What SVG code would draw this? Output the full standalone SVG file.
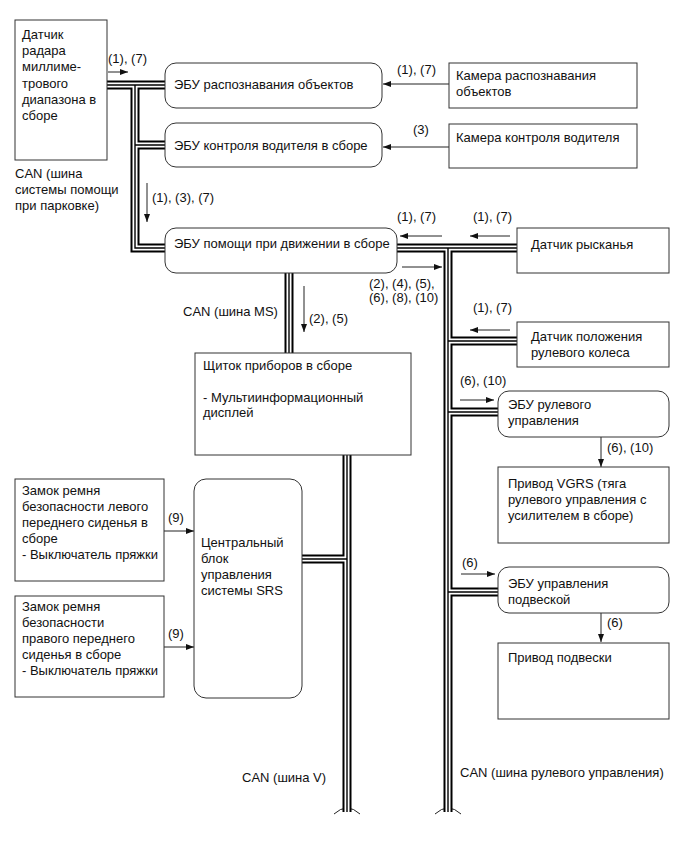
<svg xmlns="http://www.w3.org/2000/svg" xmlns:xlink="http://www.w3.org/1999/xlink" width="686" height="856" viewBox="0 0 686 856">
<style>
text{font-family:"Liberation Sans",Arial,sans-serif;font-size:13px;fill:#111}
.box{fill:#fff;stroke:#333;stroke-width:1}
.arr{stroke:#222;stroke-width:1;fill:none;marker-end:url(#ah)}
.b1{fill:none;stroke:#000;stroke-width:9}
.b2{fill:none;stroke:#fff;stroke-width:5}
.b3{fill:none;stroke:#000;stroke-width:1.4}
.brk{fill:none;stroke:#222;stroke-width:1}
</style>
<defs>
<marker id="ah" markerUnits="userSpaceOnUse" markerWidth="8" markerHeight="6" refX="8" refY="3" orient="auto">
<path d="M0,0 L8,3 L0,6 z" fill="#111"/>
</marker>
<path id="busP" d="M107,85 H165 M135,85 V248 H165 M135,145 H165"/>
<path id="busMS" d="M289,273 V353"/>
<path id="busV" d="M347,455 V812 M347,559 H302"/>
<path id="busS" d="M397,248 H517 M448,248 V812 M448,341 H517 M448,412 H498 M448,592 H498"/>
</defs>

<g id="connectors">
<path class="brk" d="M334,814 Q347,802 360,814"/>
<path class="brk" d="M435,814 Q448,802 461,814"/>
<use href="#busP" class="b1"/><use href="#busMS" class="b1"/><use href="#busV" class="b1"/><use href="#busS" class="b1"/>
<use href="#busP" class="b2"/><use href="#busMS" class="b2"/><use href="#busV" class="b2"/><use href="#busS" class="b2"/>
<use href="#busP" class="b3"/><use href="#busMS" class="b3"/><use href="#busV" class="b3"/><use href="#busS" class="b3"/>
<path class="arr" d="M108,72 H128"/>
<path class="arr" d="M449,84 H383"/>
<path class="arr" d="M449,147 H383"/>
<path class="arr" d="M147,183 V222"/>
<path class="arr" d="M442,236 H400"/>
<path class="arr" d="M510,236 H470"/>
<path class="arr" d="M402,267 H442"/>
<path class="arr" d="M304,286 V332"/>
<path class="arr" d="M510,330 H470"/>
<path class="arr" d="M460,400 H494"/>
<path class="arr" d="M601,437 V467"/>
<path class="arr" d="M164,531 H194"/>
<path class="arr" d="M164,647 H194"/>
<path class="arr" d="M461,574 H495"/>
<path class="arr" d="M601,613 V642"/>
</g>

<g id="labels">
<text x="108" y="63">(1), (7)</text>
<text x="397" y="74">(1), (7)</text>
<text x="413" y="134">(3)</text>
<text x="15" y="178">CAN (шина</text>
<text x="15" y="194">системы помощи</text>
<text x="15" y="210">при парковке)</text>
<text x="152" y="202">(1), (3), (7)</text>
<text x="397" y="221">(1), (7)</text>
<text x="473" y="221">(1), (7)</text>
<text x="369" y="288">(2), (4), (5),</text>
<text x="369" y="302">(6), (8), (10)</text>
<text x="183" y="316">CAN (шина MS)</text>
<text x="309" y="323">(2), (5)</text>
<text x="473" y="312">(1), (7)</text>
<text x="460" y="385">(6), (10)</text>
<text x="607" y="452">(6), (10)</text>
<text x="168" y="522">(9)</text>
<text x="168" y="638">(9)</text>
<text x="462" y="567">(6)</text>
<text x="607" y="627">(6)</text>
<text x="242" y="782">CAN (шина V)</text>
<text x="460" y="777">CAN (шина рулевого управления)</text>
</g>

<g id="radar">
<rect class="box" x="15" y="20" width="92" height="140"/>
<text x="22" y="39">Датчик</text>
<text x="22" y="55">радара</text>
<text x="22" y="71">миллиме-</text>
<text x="22" y="87.5">трового</text>
<text x="22" y="103.5">диапазона в</text>
<text x="22" y="119.5">сборе</text>
</g>

<g id="ecu-object">
<rect class="box" x="165" y="63" width="217" height="45" rx="11"/>
<text x="174" y="89">ЭБУ распознавания объектов</text>
</g>

<g id="camera-object">
<rect class="box" x="449" y="63" width="188" height="45"/>
<text x="456" y="80">Камера распознавания</text>
<text x="456" y="96">объектов</text>
</g>

<g id="ecu-driver">
<rect class="box" x="165" y="123" width="217" height="44" rx="11"/>
<text x="174" y="150">ЭБУ контроля водителя в сборе</text>
</g>

<g id="camera-driver">
<rect class="box" x="449" y="124" width="188" height="44"/>
<text x="456" y="142">Камера контроля водителя</text>
</g>

<g id="ecu-assist">
<rect class="box" x="165" y="228" width="232" height="45" rx="11"/>
<text x="174" y="248">ЭБУ помощи при движении в сборе</text>
</g>

<g id="yaw-sensor">
<rect class="box" x="517" y="228" width="152" height="45"/>
<text x="531" y="249">Датчик рысканья</text>
</g>

<g id="steering-sensor">
<rect class="box" x="517" y="322" width="152" height="45"/>
<text x="531" y="341">Датчик положения</text>
<text x="531" y="357">рулевого колеса</text>
</g>

<g id="meter">
<rect class="box" x="195" y="353" width="216" height="102"/>
<text x="203" y="369.5">Щиток приборов в сборе</text>
<text x="203" y="401.5">- Мультиинформационный</text>
<text x="203" y="417">дисплей</text>
</g>

<g id="ecu-steering">
<rect class="box" x="498" y="391" width="171" height="46" rx="11"/>
<text x="508" y="408.5">ЭБУ рулевого</text>
<text x="508" y="425">управления</text>
</g>

<g id="vgrs">
<rect class="box" x="498" y="467" width="171" height="76"/>
<text x="508" y="488">Привод VGRS (тяга</text>
<text x="508" y="504">рулевого управления с</text>
<text x="508" y="519.5">усилителем в сборе)</text>
</g>

<g id="belt-left">
<rect class="box" x="15" y="479" width="149" height="102"/>
<text x="22" y="495">Замок ремня</text>
<text x="22" y="511">безопасности левого</text>
<text x="22" y="527">переднего сиденья в</text>
<text x="22" y="543">сборе</text>
<text x="22" y="559">- Выключатель пряжки</text>
</g>

<g id="belt-right">
<rect class="box" x="15" y="596" width="149" height="101"/>
<text x="22" y="611">Замок ремня</text>
<text x="22" y="627">безопасности</text>
<text x="22" y="643">правого переднего</text>
<text x="22" y="659">сиденья в сборе</text>
<text x="22" y="675">- Выключатель пряжки</text>
</g>

<g id="srs">
<rect class="box" x="194" y="479" width="108" height="219" rx="12"/>
<text x="201" y="546.5">Центральный</text>
<text x="201" y="562.5">блок</text>
<text x="201" y="578.5">управления</text>
<text x="201" y="594.5">системы SRS</text>
</g>

<g id="ecu-suspension">
<rect class="box" x="498" y="567" width="171" height="46" rx="11"/>
<text x="508" y="587.5">ЭБУ управления</text>
<text x="508" y="603.5">подвеской</text>
</g>

<g id="suspension-actuator">
<rect class="box" x="498" y="643" width="171" height="76"/>
<text x="508" y="662">Привод подвески</text>
</g>
</svg>
